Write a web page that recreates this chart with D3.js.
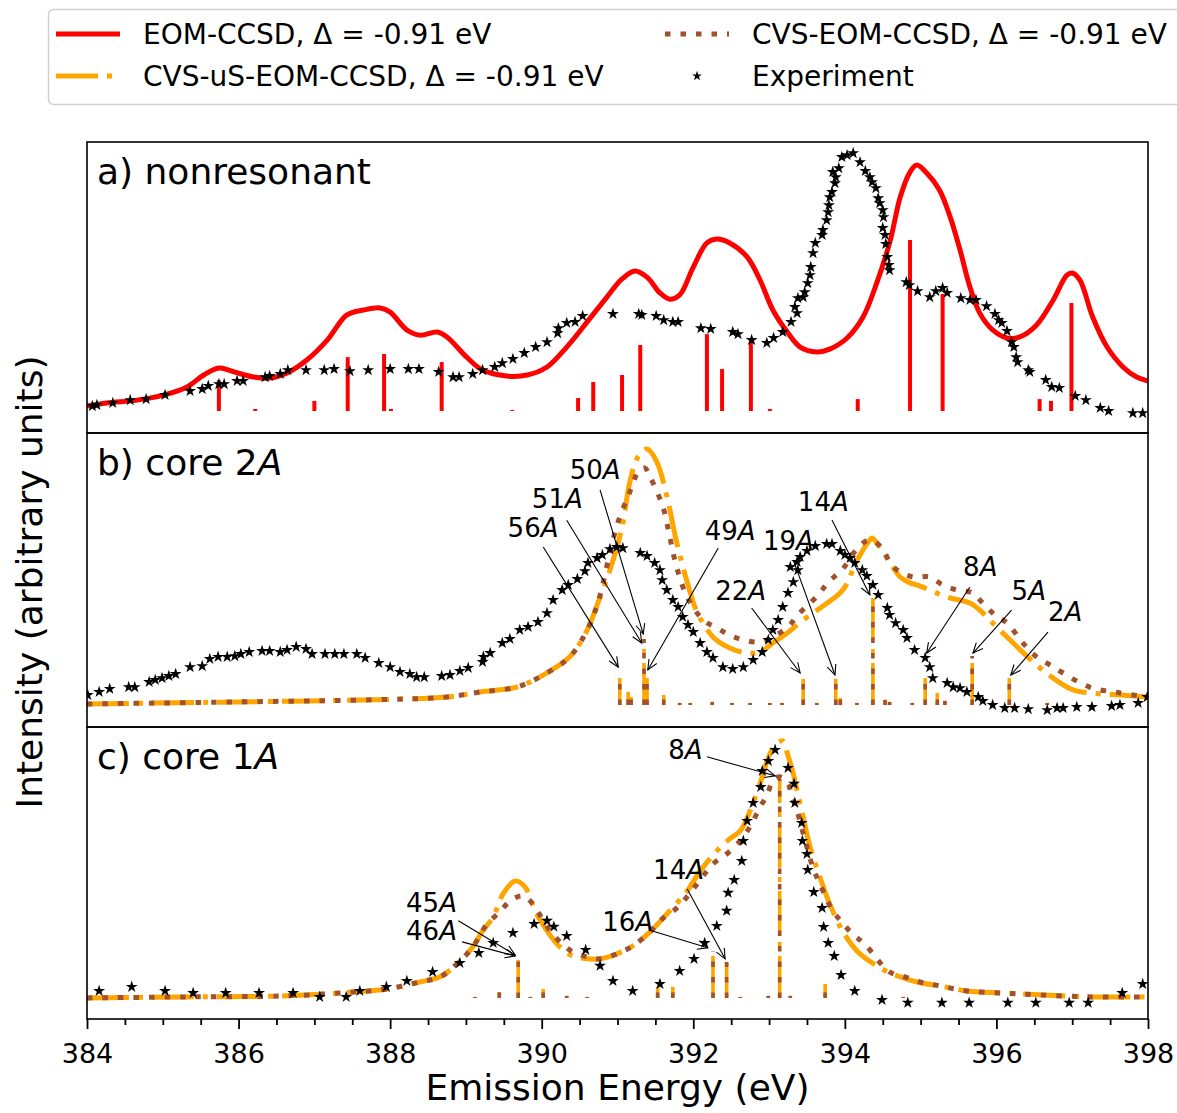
<!DOCTYPE html>
<html>
<head>
<meta charset="utf-8">
<script src="https://cdn.jsdelivr.net/npm/d3@7"></script>
<style>
  body { margin: 0; background: #fff; }
  svg { display: block; }
  text { font-family: "DejaVu Sans", sans-serif; fill: #000; }
</style>
</head>
<body>
<svg id="fig" width="1177" height="1113"></svg>
<script>
// ---------- data: [emission energy (eV), intensity (arb.)] ----------
const energyTicks = [384, 386, 388, 390, 392, 394, 396, 398];
const minorTicks = d3.range(384, 398.01, 0.5).filter(v => v % 2 !== 0);

const seriesNames = ["EOM-CCSD, Δ = -0.91 eV", "CVS-uS-EOM-CCSD, Δ = -0.91 eV",
                     "CVS-EOM-CCSD, Δ = -0.91 eV", "Experiment"];

// a) nonresonant
const expA = [[384.07,.019],[384.13,.023],[384.34,.031],[384.57,.042],[384.78,.046],[385.03,.062],[385.36,.077],[385.52,.085],[385.60,.097],[385.74,.104],[385.81,.104],[385.98,.116],[386.06,.116],[386.35,.131],[386.41,.135],[386.55,.143],[386.65,.158],[386.89,.158],[387.13,.158],[387.26,.162],[387.47,.154],[387.71,.158],[388.00,.162],[388.24,.162],[388.38,.162],[388.64,.151],[388.83,.131],[388.91,.131],[389.09,.143],[389.22,.158],[389.38,.170],[389.48,.185],[389.62,.201],[389.77,.224],[389.92,.247],[390.07,.266],[390.21,.301],[390.22,.320],[390.33,.340],[390.44,.344],[390.54,.367],[390.94,.375],[391.28,.375],[391.32,.371],[391.51,.367],[391.61,.351],[391.73,.344],[391.80,.344],[392.10,.320],[392.23,.317],[392.52,.305],[392.59,.297],[392.77,.274],[392.97,.263],[393.06,.282],[393.18,.305],[393.29,.344],[393.34,.402],[393.37,.378],[393.38,.436],[393.45,.440],[393.47,.459],[393.51,.494],[393.54,.525],[393.55,.556],[393.58,.610],[393.61,.649],[393.70,.680],[393.71,.699],[393.76,.737],[393.78,.768],[393.79,.795],[393.80,.826],[393.83,.846],[393.87,.880],[393.88,.903],[393.84,.923],[393.92,.938],[393.96,.981],[394.03,.988],[394.11,.996],[394.20,.961],[394.27,.927],[394.33,.903],[394.36,.884],[394.41,.861],[394.44,.822],[394.46,.803],[394.50,.776],[394.51,.749],[394.50,.707],[394.53,.680],[394.54,.645],[394.56,.595],[394.58,.564],[394.59,.544],[394.81,.498],[394.85,.486],[394.96,.463],[395.12,.440],[395.20,.463],[395.29,.475],[395.35,.456],[395.53,.436],[395.65,.429],[395.73,.429],[395.87,.405],[395.98,.375],[396.03,.351],[396.07,.340],[396.14,.309],[396.20,.266],[396.23,.247],[396.26,.208],[396.28,.189],[396.42,.158],[396.44,.151],[396.65,.120],[396.73,.093],[396.83,.089],[397.04,.058],[397.18,.042],[397.37,.012],[397.48,0],[397.80,-.008],[397.93,-.008]];

const eomA = [[384.00,.019],[384.26,.031],[384.66,.042],[385.02,.062],[385.32,.093],[385.54,.139],[385.74,.166],[385.94,.151],[386.20,.131],[386.41,.127],[386.64,.147],[386.90,.197],[387.17,.274],[387.43,.371],[387.65,.390],[387.87,.398],[388.00,.382],[388.22,.313],[388.39,.293],[388.62,.305],[388.75,.286],[389.01,.208],[389.22,.158],[389.54,.135],[389.81,.139],[390.07,.170],[390.33,.247],[390.60,.344],[390.86,.440],[391.06,.510],[391.23,.541],[391.39,.517],[391.56,.456],[391.69,.432],[391.82,.448],[392.00,.556],[392.18,.649],[392.31,.664],[392.48,.649],[392.71,.595],[392.88,.506],[393.05,.390],[393.24,.305],[393.41,.247],[393.63,.228],[393.80,.239],[394.03,.282],[394.24,.363],[394.42,.494],[394.60,.660],[394.73,.826],[394.86,.923],[394.95,.950],[395.08,.919],[395.25,.853],[395.39,.749],[395.52,.622],[395.65,.479],[395.78,.378],[395.95,.313],[396.14,.282],[396.31,.286],[396.53,.332],[396.75,.429],[396.93,.525],[397.00,.533],[397.10,.506],[397.27,.363],[397.46,.247],[397.67,.170],[397.85,.131],[398.00,.116]];

const sticksA = [[385.74,.119],[386.22,.008],[387.00,.039],[387.44,.208],[387.92,.220],[388.01,.008],[388.68,.189],[389.61,.004],[390.48,.050],[390.68,.112],[391.06,.139],[391.30,.255],[392.18,.297],[392.38,.162],[392.76,.270],[393.01,.008],[394.17,.046],[394.86,.660],[395.29,.452],[396.57,.046],[396.72,.039],[396.99,.417]];

// b) core 2A
const expB = [[384.01,.039],[384.16,.051],[384.30,.063],[384.55,.070],[384.63,.070],[384.82,.090],[384.90,.098],[384.99,.105],[385.08,.113],[385.17,.121],[385.36,.148],[385.52,.152],[385.62,.180],[385.73,.188],[385.85,.188],[385.95,.191],[386.03,.199],[386.14,.207],[386.31,.211],[386.41,.211],[386.55,.207],[386.64,.215],[386.76,.227],[386.89,.219],[386.97,.199],[387.14,.199],[387.27,.199],[387.39,.199],[387.56,.199],[387.67,.184],[387.85,.164],[388.00,.148],[388.13,.129],[388.26,.121],[388.35,.109],[388.45,.109],[388.68,.113],[388.79,.117],[388.92,.133],[389.03,.145],[389.22,.168],[389.23,.188],[389.32,.203],[389.48,.242],[389.58,.258],[389.71,.293],[389.82,.305],[389.95,.324],[390.07,.359],[390.15,.410],[390.27,.449],[390.35,.469],[390.47,.492],[390.57,.523],[390.61,.555],[390.73,.574],[390.80,.586],[390.90,.609],[390.99,.617],[391.07,.613],[391.30,.594],[391.39,.582],[391.49,.555],[391.56,.527],[391.59,.488],[391.65,.449],[391.73,.410],[391.80,.383],[391.86,.344],[391.93,.313],[392.00,.285],[392.09,.242],[392.18,.207],[392.26,.184],[392.39,.148],[392.52,.141],[392.66,.148],[392.79,.176],[392.91,.207],[392.99,.254],[393.05,.293],[393.12,.332],[393.18,.383],[393.25,.438],[393.28,.539],[393.32,.480],[393.37,.559],[393.38,.527],[393.41,.578],[393.50,.602],[393.61,.621],[393.76,.629],[393.83,.629],[393.94,.602],[394.00,.586],[394.07,.574],[394.13,.555],[394.23,.527],[394.29,.504],[394.37,.469],[394.44,.430],[394.56,.379],[394.59,.352],[394.67,.320],[394.77,.293],[394.82,.262],[394.92,.215],[395.06,.184],[395.12,.148],[395.16,.105],[395.35,.086],[395.43,.070],[395.52,.066],[395.61,.051],[395.76,.031],[395.82,.016],[395.95,0],[396.11,-.012],[396.24,-.012],[396.42,-.016],[396.67,-.020],[396.80,-.012],[396.88,-.012],[397.06,-.008],[397.26,-.008],[397.52,-.004],[397.63,0],[397.87,.008],[397.99,.031]];

const cvsUsB = [[384.00,.004],[386.00,.012],[388.00,.022],[388.75,.031],[389.19,.051],[389.67,.070],[390.02,.117],[390.37,.188],[390.60,.293],[390.74,.398],[390.90,.527],[391.06,.695],[391.16,.867],[391.27,.969],[391.39,1.0],[391.52,.949],[391.65,.816],[391.78,.637],[391.92,.480],[392.05,.363],[392.26,.266],[392.48,.223],[392.71,.203],[392.88,.207],[393.05,.242],[393.24,.281],[393.45,.332],[393.94,.438],[394.04,.480],[394.13,.547],[394.33,.645],[394.36,.652],[394.46,.617],[394.59,.559],[394.73,.500],[394.86,.477],[394.95,.469],[395.35,.422],[395.65,.398],[395.78,.371],[395.91,.332],[396.18,.254],[396.53,.156],[396.84,.086],[397.01,.059],[397.23,.047],[397.63,.039],[398.00,.031]];

const cvsB = [[384.00,.004],[386.00,.012],[388.00,.022],[388.75,.031],[389.19,.051],[389.67,.070],[390.02,.117],[390.37,.188],[390.60,.293],[390.74,.398],[390.94,.645],[391.03,.734],[391.12,.801],[391.19,.852],[391.27,.910],[391.36,.926],[391.43,.891],[391.60,.773],[391.69,.656],[391.78,.539],[391.92,.422],[392.13,.332],[392.31,.301],[392.48,.273],[392.66,.254],[392.88,.246],[393.05,.266],[393.25,.305],[393.38,.352],[393.65,.430],[393.78,.480],[393.96,.527],[394.17,.613],[394.33,.645],[394.49,.613],[394.59,.559],[394.69,.527],[394.90,.500],[395.12,.500],[395.29,.469],[395.48,.449],[395.68,.438],[395.82,.398],[395.98,.352],[396.14,.320],[396.35,.242],[396.53,.188],[396.71,.156],[396.88,.125],[397.23,.070],[397.63,.047],[398.00,.031]];

const sticksB = [[391.03,.105],[391.14,.051],[391.18,.031],[391.35,.258],[391.39,.105],[391.61,.039],[391.82,.008],[391.96,.008],[392.25,.012],[392.51,.008],[392.75,.008],[393.01,.008],[393.17,.008],[393.45,.102],[393.63,.008],[393.88,.102],[393.94,.027],[394.16,.008],[394.37,.418],[394.53,.020],[394.59,.012],[394.89,.008],[395.06,.105],[395.22,.047],[395.32,.016],[395.68,.191],[396.17,.105],[396.67,.008]];

// c) core 1A
const expC = [[384.16,.027],[384.59,.043],[385.03,.027],[385.40,.019],[385.83,.019],[386.27,.019],[386.72,.019],[387.07,.004],[387.42,.004],[387.60,.027],[387.95,.043],[388.22,.066],[388.56,.101],[388.92,.136],[389.17,.175],[389.36,.214],[389.62,.253],[389.90,.288],[390.07,.300],[390.16,.277],[390.33,.241],[390.58,.187],[390.77,.125],[390.94,.066],[391.20,.027],[391.56,.054],[391.82,.105],[392.01,.152],[392.15,.214],[392.31,.280],[392.44,.339],[392.46,.409],[392.54,.459],[392.64,.533],[392.66,.611],[392.71,.689],[392.79,.759],[392.89,.821],[392.91,.883],[392.99,.922],[393.08,.965],[393.25,.895],[393.33,.833],[393.34,.759],[393.43,.681],[393.44,.611],[393.50,.560],[393.51,.498],[393.59,.412],[393.70,.350],[393.72,.276],[393.78,.214],[393.86,.163],[393.95,.089],[394.13,.027],[394.49,-.008],[394.83,-.019],[395.28,-.019],[395.64,-.019],[396.15,-.019],[396.52,-.019],[396.96,-.019],[397.21,-.019],[397.66,.019],[397.93,.054]];

const cvsUsC = [[384.00,.000],[385.32,.004],[386.64,.008],[387.52,.023],[387.96,.035],[388.39,.062],[388.66,.082],[388.88,.132],[389.09,.198],[389.22,.261],[389.36,.315],[389.49,.405],[389.65,.455],[389.78,.432],[389.91,.339],[390.07,.261],[390.24,.198],[390.41,.163],[390.60,.152],[390.77,.152],[390.99,.171],[391.20,.202],[391.43,.257],[391.69,.339],[391.92,.416],[392.09,.494],[392.31,.572],[392.48,.619],[392.62,.650],[392.75,.728],[392.88,.833],[393.01,.949],[393.10,.988],[393.18,1.0],[393.25,.942],[393.32,.872],[393.38,.794],[393.45,.704],[393.54,.588],[393.67,.471],[393.80,.366],[393.97,.261],[394.16,.183],[394.42,.125],[394.63,.093],[394.95,.062],[395.25,.047],[395.61,.027],[396.09,.019],[396.57,.012],[397.23,.004],[398.00,.004]];

const cvsC = [[384.00,.000],[385.32,.004],[386.64,.008],[387.52,.023],[387.96,.035],[388.39,.062],[388.66,.082],[388.88,.132],[389.09,.198],[389.28,.288],[389.45,.335],[389.58,.377],[389.74,.397],[389.85,.377],[390.11,.261],[390.27,.210],[390.41,.179],[390.60,.160],[390.77,.152],[390.99,.171],[391.20,.202],[391.43,.257],[391.56,.300],[391.80,.354],[392.02,.432],[392.26,.521],[392.44,.560],[392.64,.619],[392.77,.677],[392.88,.743],[392.97,.786],[393.05,.844],[393.14,.860],[393.25,.833],[393.30,.786],[393.37,.727],[393.47,.619],[393.58,.506],[393.67,.444],[393.84,.339],[393.97,.292],[394.10,.249],[394.26,.210],[394.59,.101],[394.79,.082],[394.99,.062],[395.25,.047],[395.61,.027],[396.09,.019],[396.57,.012],[397.23,.004],[398.00,.004]];

const sticksC = [[389.12,.004],[389.44,.023],[389.69,.148],[389.85,.004],[390.02,.035],[390.33,.008],[390.60,.004],[391.53,.043],[391.73,.043],[392.26,.183],[392.44,.140],[392.62,.004],[392.99,.008],[393.14,.852],[393.28,.008],[393.74,.054],[394.77,.004]];

// state labels: text anchor (left, baseline), arrow tail and head, all in data units
const notesB = [
  {n: "56", at: [389.55, .656], from: [390.02, .617], to: [391.01, .148]},
  {n: "51", at: [389.87, .768], from: [390.33, .722], to: [391.32, .242]},
  {n: "50", at: [390.37, .883], from: [390.77, .840], to: [391.34, .277]},
  {n: "49", at: [392.15, .645], from: [392.33, .613], to: [391.40, .137]},
  {n: "22", at: [392.29, .410], from: [392.77, .379], to: [393.41, .125]},
  {n: "19", at: [392.92, .605], from: [393.32, .566], to: [393.87, .117]},
  {n: "14", at: [393.38, .758], from: [393.83, .723], to: [394.33, .430]},
  {n: "8",  at: [395.56, .504], from: [395.65, .461], to: [395.08, .203]},
  {n: "5",  at: [396.20, .410], from: [396.20, .371], to: [395.69, .203]},
  {n: "2",  at: [396.68, .328], from: [396.68, .285], to: [396.19, .117]}
];
const notesC = [
  {n: "8",  at: [391.67, .930], from: [392.18, .938], to: [393.08, .864]},
  {n: "14", at: [391.47, .463], from: [391.92, .424], to: [392.42, .152]},
  {n: "16", at: [390.80, .261], from: [391.45, .261], to: [392.19, .195]},
  {n: "45", at: [388.21, .335], from: [388.90, .300], to: [389.65, .167]},
  {n: "46", at: [388.21, .226], from: [388.95, .218], to: [389.65, .163]}
];

// ---------- layout & styles ----------
const RED = "#ff0000", ORANGE = "#ffa500", BROWN = "#a0522d";
const DASHDOT = "42,9,5,9", DOTTED = "5.5,10";
const L = 87, R = 1148;

const svg = d3.select("#fig");
const x = d3.scaleLinear().domain([384, 398]).range([L, R]);

const panels = [
  {id: "a", top: 142, bottom: 433, ylim: [-0.085, 1.039], title: [["a) nonresonant", false]]},
  {id: "b", top: 433, bottom: 727, ylim: [-0.086, 1.0625], title: [["b) core 2", false], ["A", true]]},
  {id: "c", top: 727, bottom: 1019, ylim: [-0.082, 1.054], title: [["c) core 1", false], ["A", true]]}
];
panels.forEach(p => { p.y = d3.scaleLinear().domain(p.ylim).range([p.bottom, p.top]); });

const defs = svg.append("defs");
panels.forEach(p => {
  defs.append("clipPath").attr("id", "clip-" + p.id)
    .append("rect").attr("x", L).attr("y", p.top).attr("width", R - L).attr("height", p.bottom - p.top);
});

const star = d3.symbol().type(d3.symbolStar).size(44);
const legendStar = d3.symbol().type(d3.symbolStar).size(30);

function curve(g, data, y, color, width, dash) {
  const line = d3.line().x(d => x(d[0])).y(d => y(d[1])).curve(d3.curveCatmullRom.alpha(0.5));
  g.append("path").datum(data).attr("d", line)
    .attr("fill", "none").attr("stroke", color).attr("stroke-width", width)
    .attr("stroke-dasharray", dash || null).attr("stroke-linejoin", "round");
}
function sticks(g, data, y, color, width, dash) {
  g.append("g").selectAll("line").data(data).join("line")
    .attr("x1", d => x(d[0])).attr("x2", d => x(d[0]))
    .attr("y1", y(0)).attr("y2", d => y(d[1]))
    .attr("stroke", color).attr("stroke-width", width)
    .attr("stroke-dasharray", dash || null);
}
function points(g, data, y) {
  g.append("g").selectAll("path").data(data).join("path")
    .attr("d", star).attr("fill", "#000")
    .attr("transform", d => `translate(${x(d[0])},${y(d[1])})`);
}
function richText(g, px, py, parts, size, anchor) {
  const t = g.append("text").attr("x", px).attr("y", py)
    .attr("font-size", size).attr("text-anchor", anchor || "start");
  parts.forEach(([s, it]) => t.append("tspan").text(s).attr("font-style", it ? "italic" : "normal"));
  return t;
}
function arrow(g, x1, y1, x2, y2) {
  const a = Math.atan2(y2 - y1, x2 - x1), hl = 11, hw = 0.42;
  g.append("line").attr("x1", x1).attr("y1", y1).attr("x2", x2).attr("y2", y2)
    .attr("stroke", "#000").attr("stroke-width", 1.1);
  const head = [[x2 - hl * Math.cos(a - hw), y2 - hl * Math.sin(a - hw)], [x2, y2],
                [x2 - hl * Math.cos(a + hw), y2 - hl * Math.sin(a + hw)]];
  g.append("path").attr("d", d3.line()(head)).attr("fill", "none")
    .attr("stroke", "#000").attr("stroke-width", 1.1);
}
function notes(g, list, y) {
  list.forEach(a => {
    arrow(g, x(a.from[0]), y(a.from[1]), x(a.to[0]), y(a.to[1]));
    richText(g, x(a.at[0]), y(a.at[1]), [[a.n, false], ["A", true]], 26);
  });
}

// ---------- panels ----------
panels.forEach(p => {
  svg.append("rect").attr("x", L).attr("y", p.top).attr("width", R - L).attr("height", p.bottom - p.top)
    .attr("fill", "#fff");
  const g = svg.append("g").attr("clip-path", `url(#clip-${p.id})`);
  if (p.id === "a") {
    curve(g, eomA, p.y, RED, 5);
    sticks(g, sticksA, p.y, RED, 4);
    points(g, expA, p.y);
  } else {
    const us = p.id === "b" ? cvsUsB : cvsUsC;
    const cv = p.id === "b" ? cvsB : cvsC;
    const st = p.id === "b" ? sticksB : sticksC;
    const ex = p.id === "b" ? expB : expC;
    curve(g, us, p.y, ORANGE, 5, DASHDOT);
    curve(g, cv, p.y, BROWN, 5, DOTTED);
    sticks(g, st, p.y, ORANGE, 3.6, DASHDOT);
    sticks(g, st, p.y, BROWN, 3.6, DOTTED);
    points(g, ex, p.y);
    notes(svg, p.id === "b" ? notesB : notesC, p.y);
  }
  richText(svg, 97, p.top + 42, p.title, 36);
});
panels.forEach(p => {
  svg.append("rect").attr("x", L).attr("y", p.top).attr("width", R - L).attr("height", p.bottom - p.top)
    .attr("fill", "none").attr("stroke", "#000").attr("stroke-width", 1.6);
});

// ---------- x axis ----------
const axisY = panels[2].bottom;
const minor = svg.append("g").attr("transform", `translate(0,${axisY})`)
  .call(d3.axisBottom(x).tickValues(minorTicks).tickSize(6).tickFormat(""));
const major = svg.append("g").attr("transform", `translate(0,${axisY})`)
  .call(d3.axisBottom(x).tickValues(energyTicks).tickSize(10).tickFormat(d3.format("d")));
[minor, major].forEach(a => {
  a.select(".domain").remove();
  a.selectAll(".tick line").attr("stroke", "#000").attr("stroke-width", 1.8);
});
major.selectAll(".tick text").attr("y", 44).attr("dy", null)
  .attr("font-size", 27).attr("font-family", "DejaVu Sans, sans-serif").attr("fill", "#000");

svg.append("text").attr("x", (L + R) / 2).attr("y", 1100).attr("text-anchor", "middle")
  .attr("font-size", 36).text("Emission Energy (eV)");
svg.append("text").attr("transform", "translate(42,582) rotate(-90)").attr("text-anchor", "middle")
  .attr("font-size", 36).text("Intensity (arbitrary units)");

// ---------- legend ----------
const lg = svg.append("g");
lg.append("rect").attr("x", 48.5).attr("y", 9.5).attr("width", 1160).attr("height", 95).attr("rx", 5)
  .attr("fill", "#fff").attr("stroke", "#d0d0d0").attr("stroke-width", 1.5);
const rows = [34, 76], cols = [56, 665], hlen = 64;
const legendItems = [
  {name: seriesNames[0], col: 0, row: 0, draw: (g, x0, y0) => g.append("line").attr("x1", x0).attr("x2", x0 + hlen).attr("y1", y0).attr("y2", y0).attr("stroke", RED).attr("stroke-width", 5)},
  {name: seriesNames[1], col: 0, row: 1, draw: (g, x0, y0) => g.append("line").attr("x1", x0).attr("x2", x0 + hlen).attr("y1", y0).attr("y2", y0).attr("stroke", ORANGE).attr("stroke-width", 5).attr("stroke-dasharray", DASHDOT)},
  {name: seriesNames[2], col: 1, row: 0, draw: (g, x0, y0) => g.append("line").attr("x1", x0).attr("x2", x0 + hlen).attr("y1", y0).attr("y2", y0).attr("stroke", BROWN).attr("stroke-width", 5).attr("stroke-dasharray", DOTTED)},
  {name: seriesNames[3], col: 1, row: 1, draw: (g, x0, y0) => g.append("path").attr("d", legendStar).attr("transform", `translate(${x0 + hlen / 2},${y0})`)}
];
legendItems.forEach(it => {
  const x0 = cols[it.col], y0 = rows[it.row];
  it.draw(lg, x0, y0);
  lg.append("text").attr("x", x0 + hlen + 23).attr("y", y0 + 10).attr("font-size", 28).text(it.name);
});
</script>
</body>
</html>
